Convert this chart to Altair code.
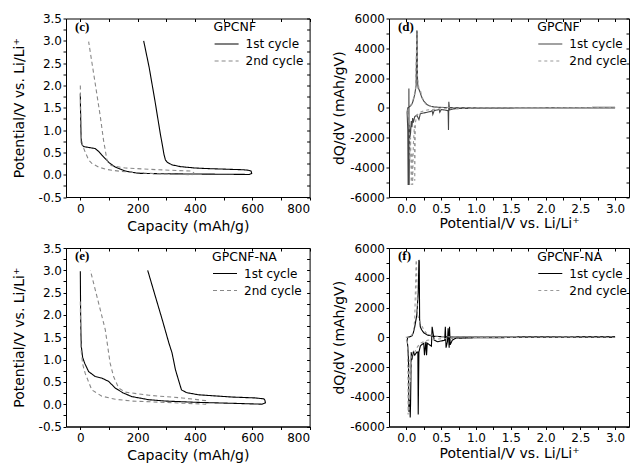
import altair as alt
import pandas as pd

CYCLES = ["1st cycle", "2nd cycle"]

# ---- (c) GPCNF: potential vs capacity ----
c1_cap = [0, 0.5, 2, 3.5, 7, 11.5, 30, 52, 64, 75, 87, 100, 122, 157, 204, 300, 400, 500, 590, 598,
          596, 585, 570, 500, 450, 400, 350, 320, 303, 297, 292, 288, 279, 260, 240, 221]
c1_pot = [1.82, 1.5, 1.0, 0.72, 0.66, 0.63, 0.61, 0.585, 0.52, 0.44, 0.36, 0.27, 0.17, 0.08, 0.03, 0.02, 0.015, 0.01, 0.005, 0.03,
          0.08, 0.1, 0.11, 0.125, 0.135, 0.15, 0.18, 0.22, 0.28, 0.33, 0.45, 0.6, 0.92, 1.67, 2.41, 3.0]
c2_cap = [0, 1, 2, 4, 8, 17.5, 29, 41, 64, 90, 121, 180, 272, 390, 396, 390, 274, 157, 110, 99,
          93, 87, 81, 70, 52, 29]
c2_pot = [2.0, 1.5, 1.1, 0.8, 0.65, 0.5, 0.33, 0.25, 0.17, 0.12, 0.09, 0.05, 0.02, 0.0, 0.04, 0.08, 0.11, 0.15, 0.2, 0.25,
          0.32, 0.55, 0.77, 1.29, 2.04, 2.98]

# ---- (e) GPCNF-NA: potential vs capacity ----
e1_cap = [0, 0.5, 1, 2, 3.5, 8, 15, 29, 52, 75, 99, 122, 150, 180, 239, 297, 413, 530, 634, 646,
          644, 640, 611, 530, 413, 370, 353, 344, 332, 320, 309, 286, 262, 235]
e1_pot = [2.98, 2.5, 2.04, 1.6, 1.29, 1.05, 0.92, 0.73, 0.62, 0.585, 0.51, 0.36, 0.25, 0.17, 0.1, 0.07, 0.04, 0.02, 0.0, 0.03,
          0.09, 0.12, 0.14, 0.16, 0.21, 0.26, 0.32, 0.51, 0.77, 1.15, 1.37, 1.89, 2.41, 3.0]
e2_cap = [0, 1, 3, 8, 17, 40, 75, 122, 180, 297, 437, 441, 437, 355, 239, 157, 134, 116, 104, 87, 64, 35]
e2_pot = [2.3, 1.67, 1.2, 0.9, 0.69, 0.32, 0.18, 0.11, 0.07, 0.04, 0.0, 0.04, 0.08, 0.14, 0.2, 0.27, 0.36, 0.62, 0.92, 1.67, 2.26, 3.0]

# ---- (d) GPCNF: dQ/dV vs potential ----
d1_pot = [3.0, 2.0, 1.0, 0.7, 0.66, 0.62, 0.61, 0.605, 0.6, 0.55, 0.5, 0.48, 0.47, 0.45, 0.4, 0.38, 0.37, 0.35, 0.3, 0.25,
          0.2, 0.18, 0.15, 0.12, 0.1, 0.09, 0.08, 0.07, 0.06, 0.05, 0.045, 0.04, 0.036, 0.035, 0.03, 0.025, 0.02, 0.01,
          0.02, 0.05, 0.08, 0.1, 0.12, 0.14, 0.15, 0.155, 0.16, 0.165, 0.17, 0.18, 0.2, 0.22, 0.25, 0.3, 0.35, 0.4, 0.5, 0.7,
          1.0, 2.0, 3.0]
d1_dq = [-10, -15, -30, -60, -100, -150, 400, -1500, -200, -150, -120, -300, -100, -150, -180, -450, -200, -250, -300, -350,
         -400, -800, -500, -600, -1000, -700, -1300, -900, -1700, -2000, -1200, -5200, 1300, -4800, -3000, -5200, -1500, -300,
         0, 80, 250, 500, 900, 1500, 5200, 5100, 1800, 1500, 1300, 1250, 1000, 700, 450, 200, 100, 50, 20, 10,
         5, 5, 30]
d2_pot = [3.0, 1.0, 0.7, 0.5, 0.4, 0.3, 0.25, 0.2, 0.15, 0.13, 0.12, 0.115, 0.1, 0.09, 0.08, 0.07, 0.06, 0.05, 0.04, 0.03,
          0.02, 0.03, 0.06, 0.1, 0.13, 0.15, 0.155, 0.16, 0.18, 0.2, 0.22, 0.25, 0.3, 0.4, 0.6, 1.0, 2.0, 3.0]
d2_dq = [-5, -20, -40, -80, -100, -150, -200, -300, -500, -1000, -4900, -1200, -2500, -5200, -3000, -5200, -2000, -3500, -1000, -600,
         -200, 0, 100, 600, 1200, 4800, 5000, 2000, 1300, 1200, 800, 400, 150, 50, 20, 10, 5, 20]

# ---- (f) GPCNF-NA: dQ/dV vs potential ----
f1_pot = [3.0, 2.0, 1.0, 0.7, 0.66, 0.63, 0.62, 0.615, 0.6, 0.59, 0.57, 0.56, 0.55, 0.5, 0.45, 0.4, 0.37, 0.36, 0.33, 0.3,
          0.29, 0.28, 0.26, 0.25, 0.22, 0.2, 0.18, 0.17, 0.165, 0.15, 0.12, 0.1, 0.08, 0.07, 0.06, 0.055, 0.05, 0.04, 0.035, 0.03,
          0.02, 0.01, 0.02, 0.05, 0.08, 0.1, 0.12, 0.15, 0.17, 0.18, 0.185, 0.19, 0.2, 0.22, 0.25, 0.3, 0.4, 0.6, 1.0, 3.0]
f1_dq = [-5, -10, -30, -80, -200, -500, 700, -700, 600, -300, -700, 700, -200, -250, -300, -200, 700, -600, -500, -400,
         -1200, -300, -1200, -400, -500, -600, -1000, -5200, -1000, -1000, -1200, -1000, -1500, -1000, -4500, -5400, -4200, -4800, -5000, -1500,
         -600, -200, 0, 30, 100, 300, 700, 1500, 3000, 5200, 5100, 1200, 700, 500, 300, 150, 60, 20, 10, 50]
f2_pot = [3.0, 1.0, 0.5, 0.3, 0.2, 0.15, 0.12, 0.1, 0.08, 0.06, 0.05, 0.04, 0.03, 0.025, 0.02, 0.01, 0.0, 0.05, 0.1, 0.12,
          0.14, 0.145, 0.16, 0.2, 0.22, 0.25, 0.3, 0.4, 0.6, 1.0, 3.0]
f2_dq = [-5, -20, -100, -200, -400, -700, -1000, -1200, -1000, -3000, -1500, -5000, -2000, -5200, -700, -100, 0, 0, 300, 1200,
         5200, 5000, 1500, 900, 800, 500, 200, 80, 30, 10, 30]

# major (labelled) and minor tick positions
cap_ticks = [0, 100, 200, 300, 400, 500, 600, 700, 800]
pot_ticks = [-0.5, -0.25, 0.0, 0.25, 0.5, 0.75, 1.0, 1.25, 1.5, 1.75, 2.0, 2.25, 2.5, 2.75, 3.0, 3.25, 3.5]
v_ticks = [0.0, 0.25, 0.5, 0.75, 1.0, 1.25, 1.5, 1.75, 2.0, 2.25, 2.5, 2.75, 3.0]
dq_ticks = [-6000, -5000, -4000, -3000, -2000, -1000, 0, 1000, 2000, 3000, 4000, 5000, 6000]

FONT = "DejaVu Sans"
POT_TITLE = "Potential/V vs. Li/Li\u207a"


def every(step):
    return ("abs(datum.value / %s - round(datum.value / %s)) < 0.001 ? "
            "replace(datum.label, '\u2212', '-') : ''") % (step, step)


def frame(pairs):
    rows = []
    for name, xs, ys in pairs:
        for i, (x, y) in enumerate(zip(xs, ys)):
            rows.append({"x": x, "y": y, "cycle": name, "i": i})
    return pd.DataFrame(rows)


def panel(df, xdom, xvals, xfmt, xstep, xtitle, xtpad, ydom, yvals, yfmt, ystep, ytitle, ytpad,
          colors, dashes, tag, sample, legx, width, height):
    xs = alt.Scale(domain=xdom, nice=False, zero=False)
    ys = alt.Scale(domain=ydom, nice=False, zero=False)
    leg = alt.Legend(title=sample, orient="none", legendX=legx, legendY=2.5,
                     symbolType="stroke", symbolSize=576, symbolStrokeWidth=1.2,
                     labelOffset=6, rowPadding=2, titlePadding=3, padding=0,
                     clipHeight=15, labelFont=FONT, labelFontSize=12,
                     titleFont=FONT, titleFontSize=12.5, titleFontWeight="normal",
                     labelColor="black", titleColor="black")
    lines = alt.Chart(df).mark_line(strokeWidth=1.1, clip=True).encode(
        x=alt.X("x:Q", scale=xs,
                axis=alt.Axis(values=xvals, format=xfmt, title=xtitle, titlePadding=xtpad,
                              labelExpr=every(xstep), labelOverlap=False)),
        y=alt.Y("y:Q", scale=ys,
                axis=alt.Axis(values=yvals, format=yfmt, title=ytitle, titlePadding=ytpad,
                              labelExpr=every(ystep), labelOverlap=False)),
        color=alt.Color("cycle:N", scale=alt.Scale(domain=CYCLES, range=colors), legend=leg),
        strokeDash=alt.StrokeDash("cycle:N", scale=alt.Scale(domain=CYCLES, range=dashes), legend=leg),
        order=alt.Order("i:Q"),
    )
    # inward ticks on the top and right edges of the frame
    edges = alt.Chart(df).mark_point(opacity=0, size=1).encode(
        x=alt.X("x:Q", scale=xs,
                axis=alt.Axis(orient="top", values=xvals, labels=False, domain=False,
                              title=None, tickSize=3, offset=-3)),
        y=alt.Y("y:Q", scale=ys,
                axis=alt.Axis(orient="right", values=yvals, labels=False, domain=False,
                              title=None, tickSize=3, offset=-3)),
    )
    label = alt.Chart(pd.DataFrame({"t": [tag]})).mark_text(
        font="Liberation Serif", fontWeight="bold", fontSize=13, align="left", baseline="middle"
    ).encode(x=alt.value(9), y=alt.value(8), text="t:N")
    return (alt.layer(lines, edges, label)
            .resolve_axis(x="independent", y="independent")
            .properties(width=width, height=height))


W1, W2, H = 243.6, 240, 178.5

pc = panel(frame([(CYCLES[0], c1_cap, c1_pot), (CYCLES[1], c2_cap, c2_pot)]),
           [-50, 800], cap_ticks, "d", 200, "Capacity (mAh/g)", 5,
           [-0.5, 3.5], pot_ticks, ".1f", 0.5, POT_TITLE, 12,
           ["black", "#888888"], [[1, 0], [4, 3]], "(c)", "GPCNF", 147.6, W1, H)
pd_ = panel(frame([(CYCLES[0], d1_pot, d1_dq), (CYCLES[1], d2_pot, d2_dq)]),
            [-0.25, 3.2], v_ticks, ".1f", 0.5, POT_TITLE, 2.5,
            [-6000, 6000], dq_ticks, "d", 2000, "dQ/dV (mAh/gV)", 3,
            ["#444444", "#999999"], [[1, 0], [3, 3]], "(d)", "GPCNF", 148.3, W2, H)
pe = panel(frame([(CYCLES[0], e1_cap, e1_pot), (CYCLES[1], e2_cap, e2_pot)]),
           [-50, 800], cap_ticks, "d", 200, "Capacity (mAh/g)", 5,
           [-0.5, 3.5], pot_ticks, ".1f", 0.5, POT_TITLE, 12,
           ["black", "#888888"], [[1, 0], [4, 3]], "(e)", "GPCNF-NA", 146, W1, H)
pf = panel(frame([(CYCLES[0], f1_pot, f1_dq), (CYCLES[1], f2_pot, f2_dq)]),
           [-0.25, 3.2], v_ticks, ".1f", 0.5, POT_TITLE, 2.5,
           [-6000, 6000], dq_ticks, "d", 2000, "dQ/dV (mAh/gV)", 3,
           ["black", "#999999"], [[1, 0], [3, 3]], "(f)", "GPCNF-NA", 148.3, W2, H)

top = alt.hconcat(pc, pd_, spacing=21).resolve_scale(color="independent", strokeDash="independent")
bottom = alt.hconcat(pe, pf, spacing=21).resolve_scale(color="independent", strokeDash="independent")

chart = (
    alt.vconcat(top, bottom, spacing=7.5)
    .resolve_scale(color="independent", strokeDash="independent")
    .properties(padding={"left": 3, "top": 3.5, "right": 0, "bottom": 0})
    .configure(background="white")
    .configure_view(stroke="black", strokeWidth=1)
    .configure_axis(grid=False, domainColor="black", domainWidth=1, tickColor="black",
                    tickSize=3, labelFont=FONT, labelFontSize=12, labelColor="black",
                    titleFont=FONT, titleFontSize=14, titleFontWeight="normal", titleColor="black")
    .configure_axisX(labelPadding=3)
    .configure_axisY(labelPadding=1.5)
)

chart.save("out.html", embed_options={"renderer": "svg", "actions": False})
